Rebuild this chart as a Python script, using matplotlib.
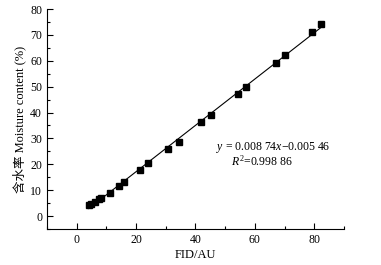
import numpy as np
import matplotlib
matplotlib.use('Agg')
import matplotlib.pyplot as plt
from matplotlib.ticker import MultipleLocator

# data
fid = [4.1, 4.9, 6.3, 7.7, 8.2, 11.1, 14.2, 15.8, 21.4, 24.2, 30.8, 34.3,
       41.9, 45.1, 54.4, 57.1, 67.1, 70.3, 79.1, 82.1]
moisture = [4.2, 4.6, 5.4, 6.7, 7.1, 9.0, 11.7, 13.0, 17.6, 20.3, 25.9, 28.7,
            36.2, 39.0, 47.0, 49.9, 59.3, 62.2, 71.2, 74.2]
eq_text = '$y$ = 0.008 74$x$\u22120.005 46'
r2_text = '$R^2$=0.998 86'

plt.rcParams['font.family'] = ['Liberation Serif', 'Noto Sans CJK SC']
plt.rcParams['mathtext.fontset'] = 'custom'
plt.rcParams['mathtext.rm'] = 'Liberation Serif'
plt.rcParams['mathtext.it'] = 'Liberation Serif:italic'

fig = plt.figure(figsize=(3.81, 2.65), dpi=100)
ax = fig.add_axes([0.123, 0.136, 0.78, 0.83])

# fitted line
k, b = np.polyfit(fid, moisture, 1)
xl = np.array([min(fid), max(fid)])
ax.plot(xl, k * xl + b, color='black', lw=0.8)
ax.plot(fid, moisture, 's', color='black', ms=5)

ax.text(66, 26.5, eq_text, fontsize=8.5, ha='center', va='center')
ax.text(52, 21, r2_text, fontsize=8.5, ha='left', va='center')

ax.set_xlim(-10, 90)
ax.set_ylim(-5, 80)
ax.xaxis.set_major_locator(MultipleLocator(20))
ax.xaxis.set_minor_locator(MultipleLocator(10))
ax.yaxis.set_major_locator(MultipleLocator(10))
ax.yaxis.set_minor_locator(MultipleLocator(5))
ax.spines['top'].set_visible(False)
ax.spines['right'].set_visible(False)
ax.tick_params(which='both', direction='in', labelsize=8.5, width=0.8)
ax.tick_params(which='major', length=4)
ax.tick_params(which='minor', length=2)
ax.set_xlabel('FID/AU', fontsize=9, labelpad=2)
ax.set_ylabel('含水率 Moisture content (%)', fontsize=9, labelpad=3)

plt.savefig('out.png', dpi=100)
